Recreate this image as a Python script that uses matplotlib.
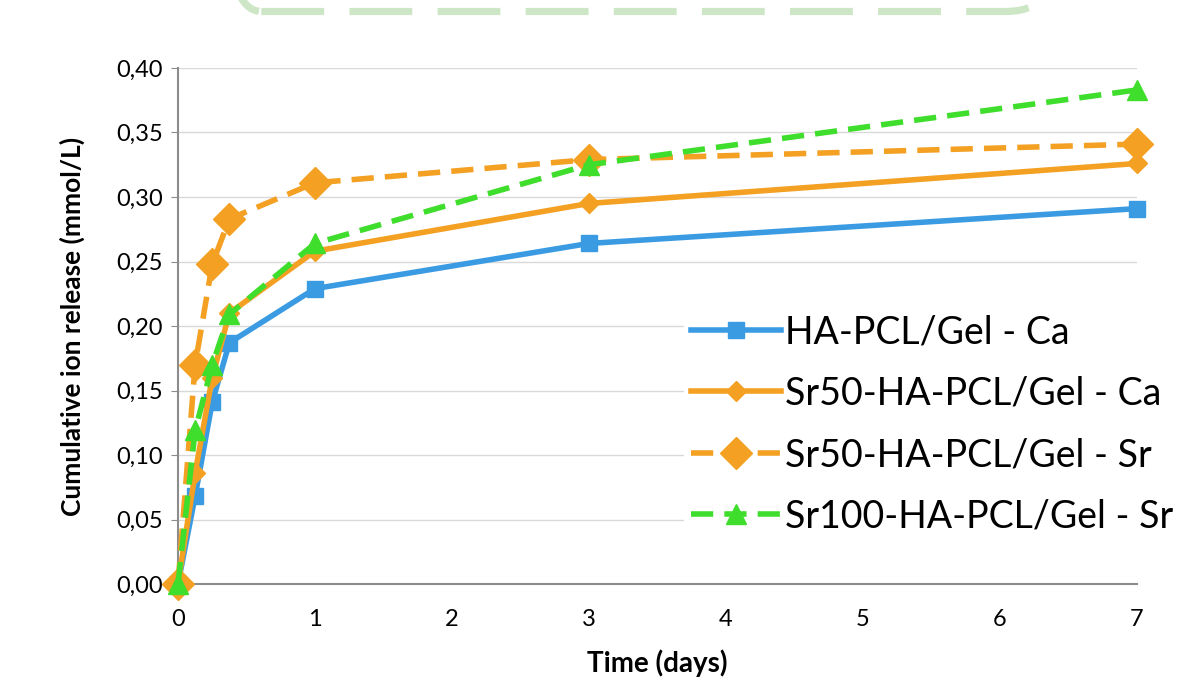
import matplotlib
matplotlib.use("Agg")
import matplotlib.pyplot as plt
from matplotlib.patches import FancyBboxPatch
from matplotlib.ticker import FuncFormatter

plt.rcParams['font.family'] = ['Lato', 'DejaVu Sans']

# sampling times (days)
days = [0, 0.125, 0.25, 0.375, 1, 3, 7]

ha_ca = [0.0, 0.068, 0.141, 0.187, 0.229, 0.264, 0.291]
sr50_ca = [0.0, 0.086, 0.160, 0.210, 0.258, 0.295, 0.326]
sr50_sr = [0.0, 0.170, 0.248, 0.283, 0.311, 0.329, 0.341]
sr100_sr = [0.0, 0.119, 0.170, 0.209, 0.264, 0.325, 0.383]

labels = ["HA-PCL/Gel - Ca", "Sr50-HA-PCL/Gel - Ca",
          "Sr50-HA-PCL/Gel - Sr", "Sr100-HA-PCL/Gel - Sr"]

blue = "#3A9BE3"
orange = "#F3A023"
green = "#3FDD2C"

fig = plt.figure(figsize=(11.78, 6.77), dpi=100)
ax = fig.add_axes([178 / 1178, 1 - 584 / 677, (1137 - 178) / 1178, (584 - 68) / 677])

dash = (0, (4, 2))
ax.plot(days, ha_ca, color=blue, lw=4, marker='s', ms=11,
        label=labels[0], clip_on=False, zorder=3)
ax.plot(days, sr50_ca, color=orange, lw=4, marker='D', ms=10,
        label=labels[1], clip_on=False, zorder=3)
ax.plot(days, sr50_sr, color=orange, lw=4, ls=dash, marker='D', ms=16,
        label=labels[2], clip_on=False, zorder=3)
ax.plot(days, sr100_sr, color=green, lw=4, ls=dash, marker='^', ms=14,
        label=labels[3], clip_on=False, zorder=4)

ax.set_xlim(0, 7)
ax.set_ylim(0, 0.40)
ax.set_xticks(range(0, 8))
ax.set_yticks([i * 0.05 for i in range(9)])
ax.yaxis.set_major_formatter(FuncFormatter(lambda v, p: f"{v:.2f}".replace('.', ',')))
ax.grid(axis='y', color='#D9D9D9', lw=1)
ax.set_axisbelow(True)
for s in ['top', 'right']:
    ax.spines[s].set_visible(False)
for s in ['left', 'bottom']:
    ax.spines[s].set_color('#8C8C8C')
    ax.spines[s].set_linewidth(1.5)
ax.tick_params(axis='y', length=5, color='#8C8C8C', labelsize=17, pad=6)
ax.tick_params(axis='x', length=0, labelsize=17, pad=18)

ax.set_xlabel("Time (days)", fontsize=20, fontweight='bold', labelpad=14)
ax.set_ylabel("Cumulative ion release (mmol/L)", fontsize=19, fontweight='bold', labelpad=22)

leg = ax.legend(loc='lower right', bbox_to_anchor=(1.065, 0.045), fontsize=27,
                frameon=True, framealpha=1, edgecolor='white', facecolor='white',
                handlelength=2.4, handletextpad=0.1, labelspacing=0.68,
                borderpad=0.2, fancybox=False)
leg.get_frame().set_linewidth(0)

# faint dashed rounded box cut off at the top of the figure
box = FancyBboxPatch((226 / 1178, 1 - 11.5 / 677), (1040 - 226) / 1178, 0.2,
                     boxstyle="round,pad=0,rounding_size=0.03",
                     transform=fig.transFigure, fill=False, edgecolor='#CDE6C5',
                     lw=5.2, ls=(0, (8.7, 3.5)), clip_on=False)
fig.patches.append(box)

fig.savefig("out.png", dpi=100)
